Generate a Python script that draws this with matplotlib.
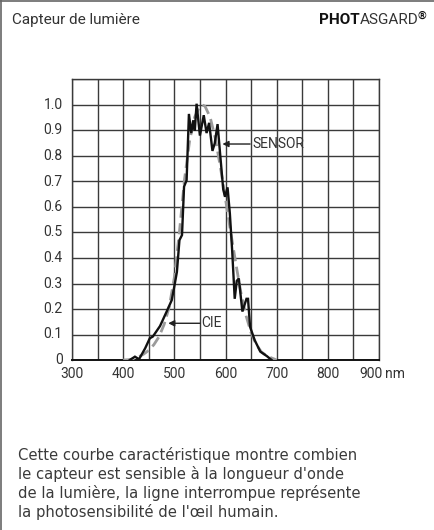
import matplotlib
matplotlib.use("Agg")
import matplotlib.pyplot as plt
from matplotlib.lines import Line2D

plt.rcParams['font.family'] = ['Roboto', 'DejaVu Sans']

# CIE photopic curve (dashed grey)
cie_nm = [400, 410, 420, 430, 440, 450, 460, 470, 480, 490, 500, 510, 520, 530,
          540, 550, 555, 560, 570, 580, 590, 600, 610, 620, 630, 640, 650, 660,
          670, 680, 690, 700]
cie_val = [0.0, 0.001, 0.004, 0.012, 0.023, 0.038, 0.06, 0.091, 0.139, 0.208,
           0.323, 0.503, 0.71, 0.862, 0.954, 0.995, 1.0, 0.995, 0.952, 0.87,
           0.757, 0.631, 0.503, 0.381, 0.265, 0.175, 0.107, 0.061, 0.032,
           0.017, 0.008, 0.0]

# sensor response (solid black)
sensor_nm = [413, 423, 431, 443, 452, 458, 472, 485, 495, 501, 505, 510, 515,
             519, 524, 528.5, 533, 537, 540, 543.5, 550, 557.5, 563, 568, 574.5,
             579, 584.5, 589, 595.5, 599, 604, 608.5, 613, 618, 622, 626, 633,
             641, 644, 648, 657, 668, 681, 690]
sensor_val = [0.0, 0.013, 0.003, 0.046, 0.085, 0.092, 0.133, 0.19, 0.235, 0.30,
              0.345, 0.47, 0.49, 0.68, 0.705, 0.965, 0.89, 0.94, 0.90, 1.005,
              0.88, 0.96, 0.89, 0.93, 0.82, 0.85, 0.925, 0.82, 0.67, 0.64,
              0.677, 0.575, 0.43, 0.24, 0.31, 0.32, 0.19, 0.24, 0.24, 0.13,
              0.078, 0.033, 0.015, 0.0]

x_ticks = [300, 400, 500, 600, 700, 800, 900]
y_ticks = [0, 0.1, 0.2, 0.3, 0.4, 0.5, 0.6, 0.7, 0.8, 0.9, 1.0]
y_labels = ['0', '0.1', '0.2', '0.3', '0.4', '0.5', '0.6', '0.7', '0.8', '0.9', '1.0']

txt = '#333333'
fig = plt.figure(figsize=(4.34, 5.30), dpi=100)
ax = fig.add_axes([72 / 434, 170 / 530, 307 / 434, 280.5 / 530])

ax.set_xlim(300, 900)
ax.set_ylim(0, 1.1)
ax.set_xticks(range(300, 901, 50))
ax.set_yticks([i / 10 for i in range(12)])
ax.grid(True, color='#3a3a3a', lw=1.0)
ax.tick_params(length=0, labelbottom=False, labelleft=False)
for s in ax.spines.values():
    s.set_color('#3a3a3a')
    s.set_linewidth(1.0)
ax.spines['bottom'].set_color('#111111')
ax.spines['bottom'].set_linewidth(1.4)

for x in x_ticks:
    # last label is pushed left to leave room for the unit
    xp = x if x < 900 else 884
    ax.text(xp, -0.055, str(x), ha='center', va='center', fontsize=10, color=txt)
ax.text(911, -0.055, 'nm', ha='left', va='center', fontsize=10, color=txt)
for y, lab in zip(y_ticks, y_labels):
    ax.text(282, y, lab, ha='right', va='center', fontsize=10, color=txt)

ax.plot(cie_nm, cie_val, color='#9a9a9a', lw=2.0, dashes=(4, 2), zorder=3)
ax.plot(sensor_nm, sensor_val, color='#111111', lw=1.7, zorder=4,
        solid_joinstyle='miter')

ax.annotate('', xy=(594, 0.847), xytext=(648, 0.847),
            arrowprops=dict(arrowstyle='-|>', color='#222222', lw=1.0,
                            mutation_scale=9, shrinkA=0, shrinkB=0), zorder=5)
ax.text(652, 0.847, 'SENSOR', ha='left', va='center', fontsize=10, color=txt,
        zorder=6)
ax.annotate('', xy=(488, 0.144), xytext=(550, 0.144),
            arrowprops=dict(arrowstyle='-|>', color='#222222', lw=1.0,
                            mutation_scale=9, shrinkA=0, shrinkB=0), zorder=5)
ax.text(552, 0.144, 'CIE', ha='left', va='center', fontsize=10, color=txt,
        zorder=6)

# header
hy = 1 - 20 / 530
fig.text(12 / 434, hy, 'Capteur de lumière', ha='left', va='center',
         fontsize=11, color=txt)
fig.text(360 / 434, hy, 'PHOT', ha='right', va='center',
         fontsize=11, color='#111111', fontweight='bold')
fig.text(360 / 434, hy, 'ASGARD', ha='left', va='center',
         fontsize=11, color=txt)
fig.text(418 / 434, 1 - 16 / 530, '®', ha='left', va='center',
         fontsize=8, color='#111111', fontweight='bold')

# description
desc = ("Cette courbe caractéristique montre combien\n"
        "le capteur est sensible à la longueur d'onde\n"
        "de la lumière, la ligne interrompue représente\n"
        "la photosensibilité de l'œil humain.")
fig.text(18 / 434, 1 - 447 / 530, desc, ha='left', va='top', fontsize=10.6,
         color='#3a3a3a', linespacing=1.22, family='DejaVu Sans')

# frame: top and left only
fig.add_artist(Line2D([0, 1], [1 - 1 / 530, 1 - 1 / 530], color='#666666',
                      lw=1.2, transform=fig.transFigure))
fig.add_artist(Line2D([1 / 434, 1 / 434], [0, 1], color='#666666',
                      lw=1.2, transform=fig.transFigure))

fig.savefig('out.png', dpi=100)
